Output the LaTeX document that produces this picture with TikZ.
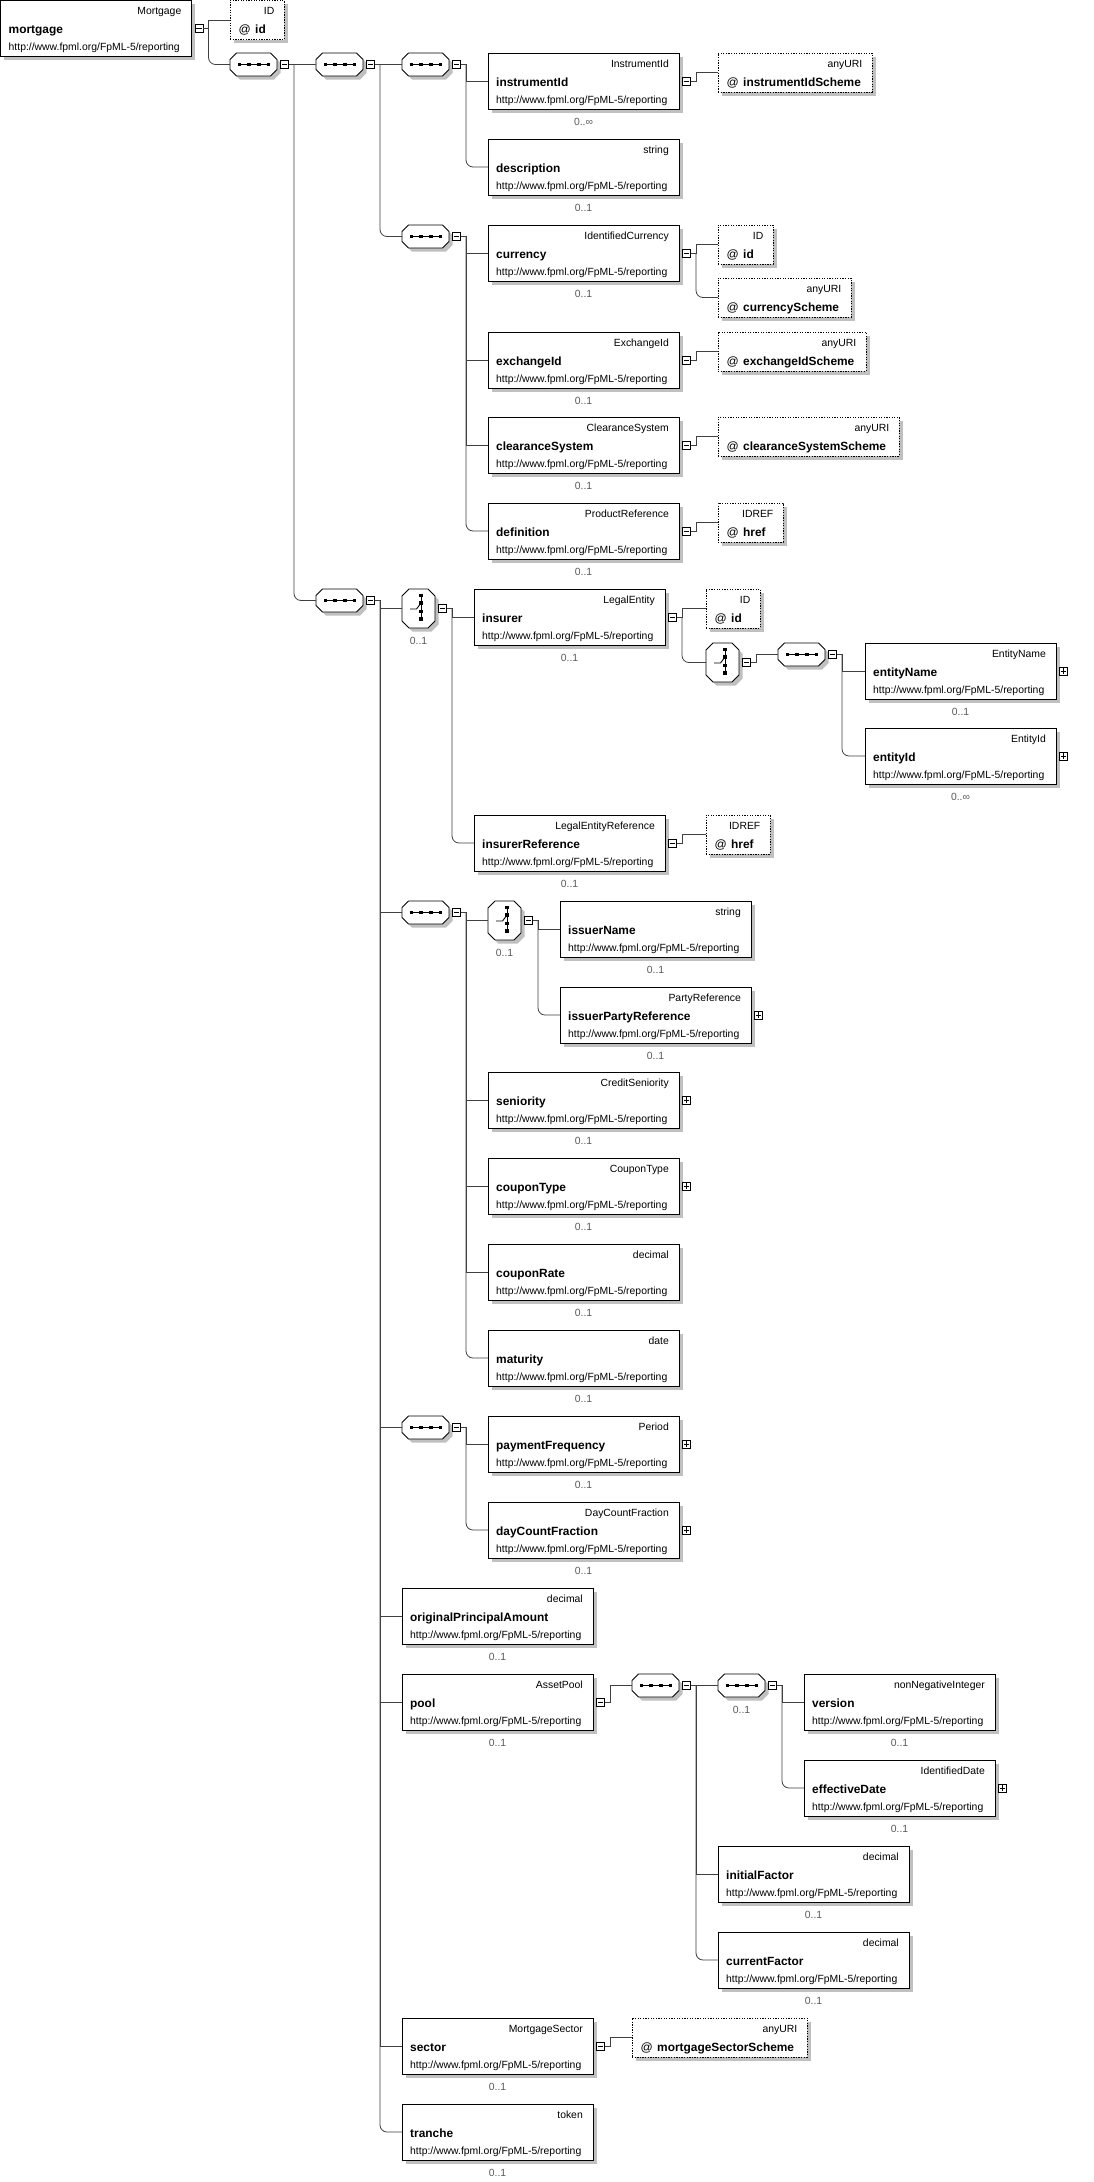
\documentclass[tikz,border=0pt]{standalone}
\usepackage{fontspec}
\setmainfont{Liberation Sans}
\usetikzlibrary{calc}
\definecolor{shadowc}{RGB}{192,192,192}
\definecolor{connc}{RGB}{64,64,64}
\definecolor{multc}{RGB}{90,90,90}
\tikzset{
 ebox/.style={draw=black, line width=0.9pt, fill=white, minimum width=191pt, minimum height=56pt, inner sep=0pt, outer sep=0pt, anchor=north west},
 abox/.style={draw=black, line width=0.9pt, dash pattern=on 1.3pt off 1.3pt, fill=white, minimum height=39pt, inner sep=0pt, outer sep=0pt, anchor=north west},
 inv/.style={draw=none, inner sep=0pt, outer sep=0pt, anchor=north west},
 tlab/.style={font=\fontsize{10.4}{12}\selectfont, anchor=base east, inner sep=0pt},
 ulab/.style={font=\fontsize{10.4}{12}\selectfont, anchor=base west, inner sep=0pt},
 nlab/.style={font=\bfseries\fontsize{11.9}{14}\selectfont, anchor=base west, inner sep=0pt},
 alab/.style={font=\fontsize{12}{14}\selectfont, anchor=base west, inner sep=0pt},
 mlab/.style={font=\fontsize{10.4}{12}\selectfont, text=multc, anchor=base, inner sep=0pt},
 togbox/.style={draw=black, line width=0.8pt, fill=white, minimum size=8pt, inner sep=0pt, outer sep=0pt},
 conn/.style={draw=connc, line width=0.8pt},
}
\newcommand\elem[5]{%
  \fill[shadowc] (#2+3.5,#3+3.5) rectangle ++(191,56);
  \node[ebox] (#1) at (#2,#3) {};
  \node[tlab] (#1-ty) at ($(#1.north east)+(-10,14)$) {#4};
  \node[nlab] (#1-nm) at ($(#1.north west)+(8,33)$) {#5};
  \node[ulab] (#1-ns) at ($(#1.north west)+(8,50)$) {http://www.fpml.org/FpML-5/reporting};
  \coordinate (#1-in) at ($(#1.north west)+(0,28)$);
}
\newcommand\mult[2]{\node[mlab] (#1-mu) at ($(#1.south)+(0,16)$) {#2};}
\newcommand\tog[3]{%
  \node[togbox] (#1) at #2 {};
  \draw[line width=0.8pt] ($(#1.center)+(-2.6,0)$) -- ($(#1.center)+(2.6,0)$);
  \ifnum#3=1 \draw[line width=0.8pt] ($(#1.center)+(0,-2.6)$) -- ($(#1.center)+(0,2.6)$);\fi
}
\newcommand\etog[2]{\tog{#1-t}{($(#1.north east)+(7.5,28)$)}{#2}}
\newcommand\stog[1]{\tog{#1-t}{($(#1.east)+(7.5,0)$)}{0}}
\newcommand\seqn[3]{%
  \begin{scope}[shift={(#2,#3)}]
   \fill[shadowc, shift={(3.5,3.5)}] (6.5,0) -- (40.5,0) -- (47,6.5) -- (47,16.5) -- (40.5,23) -- (6.5,23) -- (0,16.5) -- (0,6.5) -- cycle;
   \filldraw[fill=white, draw=black, line width=0.9pt] (6.5,0) -- (40.5,0) -- (47,6.5) -- (47,16.5) -- (40.5,23) -- (6.5,23) -- (0,16.5) -- (0,6.5) -- cycle;
   \draw[line width=1pt] (9.5,11.5) -- (38.5,11.5);
   \foreach \xx in {9.5,19.2,28.8,38.5} \fill (\xx-1.8,11.5-1.8) rectangle ++(3.6,3.6);
  \end{scope}
  \node[inv, minimum width=47pt, minimum height=23pt] (#1) at (#2,#3) {};
}
\newcommand\chon[3]{%
  \begin{scope}[shift={(#2,#3)}]
   \fill[shadowc, shift={(3.5,3.5)}] (7,0) -- (26,0) -- (33,7) -- (33,32) -- (26,39) -- (7,39) -- (0,32) -- (0,7) -- cycle;
   \filldraw[fill=white, draw=black, line width=0.9pt] (7,0) -- (26,0) -- (33,7) -- (33,32) -- (26,39) -- (7,39) -- (0,32) -- (0,7) -- cycle;
   \draw[line width=1pt] (19,6.3) -- (19,30);
   \foreach \yy in {6.3,14,22.3,30} \fill (19-1.8,\yy-1.8) rectangle ++(3.6,3.6);
   \draw[line width=0.9pt] (8,20) -- (14.5,20) -- (19,14);
  \end{scope}
  \node[inv, minimum width=33pt, minimum height=39pt] (#1) at (#2,#3) {};
}
\newcommand\attr[6]{%
  \fill[shadowc] (#2+3.5,#3+3.5) rectangle ++(#4,39);
  \node[abox, minimum width=#4pt] (#1) at (#2,#3) {};
  \node[tlab] (#1-ty) at ($(#1.north east)+(-9.5,14)$) {#5};
  \node[alab] (#1-at) at ($(#1.north west)+(8.5,33)$) {@};
  \node[nlab] (#1-nm) at ($(#1.north west)+(25,33)$) {#6};
}
\newcommand\br[2]{\draw[conn] (#1.east) -- ++(5.5,0) |- (#2);}
\newcommand\brl[2]{\draw[conn] (#1.east) -- ++(5.5,0) coordinate (#1-x); \draw[conn, rounded corners=7pt] (#1-x) |- (#2);}
\begin{document}
\begin{tikzpicture}[x=1pt,y=-1pt]
\fill[white] (0,0) rectangle (1094,2182);
\useasboundingbox (0,0) rectangle (1094,2182);
% elements
\elem{mortgage}{0.5}{0.5}{Mortgage}{mortgage}
\elem{instrumentId}{488}{53}{InstrumentId}{instrumentId}
\elem{description}{488}{139}{string}{description}
\elem{currency}{488}{225}{IdentifiedCurrency}{currency}
\elem{exchangeId}{488}{332}{ExchangeId}{exchangeId}
\elem{clearanceSystem}{488}{417}{ClearanceSystem}{clearanceSystem}
\elem{definition}{488}{503}{ProductReference}{definition}
\elem{insurer}{474}{589}{LegalEntity}{insurer}
\elem{entityName}{865}{643}{EntityName}{entityName}
\elem{entityId}{865}{728}{EntityId}{entityId}
\elem{insurerReference}{474}{815}{LegalEntityReference}{insurerReference}
\elem{issuerName}{560}{901}{string}{issuerName}
\elem{issuerPartyReference}{560}{987}{PartyReference}{issuerPartyReference}
\elem{seniority}{488}{1072}{CreditSeniority}{seniority}
\elem{couponType}{488}{1158}{CouponType}{couponType}
\elem{couponRate}{488}{1244}{decimal}{couponRate}
\elem{maturity}{488}{1330}{date}{maturity}
\elem{paymentFrequency}{488}{1416}{Period}{paymentFrequency}
\elem{dayCountFraction}{488}{1502}{DayCountFraction}{dayCountFraction}
\elem{originalPrincipalAmount}{402}{1588}{decimal}{originalPrincipalAmount}
\elem{pool}{402}{1674}{AssetPool}{pool}
\elem{version}{804}{1674}{nonNegativeInteger}{version}
\elem{effectiveDate}{804}{1760}{IdentifiedDate}{effectiveDate}
\elem{initialFactor}{718}{1846}{decimal}{initialFactor}
\elem{currentFactor}{718}{1932}{decimal}{currentFactor}
\elem{sector}{402}{2018}{MortgageSector}{sector}
\elem{tranche}{402}{2104}{token}{tranche}
% multiplicities
\mult{instrumentId}{0..∞}
\mult{description}{0..1}
\mult{currency}{0..1}
\mult{exchangeId}{0..1}
\mult{clearanceSystem}{0..1}
\mult{definition}{0..1}
\mult{insurer}{0..1}
\mult{entityName}{0..1}
\mult{entityId}{0..∞}
\mult{insurerReference}{0..1}
\mult{issuerName}{0..1}
\mult{issuerPartyReference}{0..1}
\mult{seniority}{0..1}
\mult{couponType}{0..1}
\mult{couponRate}{0..1}
\mult{maturity}{0..1}
\mult{paymentFrequency}{0..1}
\mult{dayCountFraction}{0..1}
\mult{originalPrincipalAmount}{0..1}
\mult{pool}{0..1}
\mult{version}{0..1}
\mult{effectiveDate}{0..1}
\mult{initialFactor}{0..1}
\mult{currentFactor}{0..1}
\mult{sector}{0..1}
\mult{tranche}{0..1}
% compositors
\seqn{seq1}{230}{53}
\seqn{seq2}{316}{53}
\seqn{seq3}{402}{53}
\seqn{seq4}{402}{225}
\seqn{seq5}{316}{589}
\seqn{seq6}{778}{643}
\seqn{seq7}{402}{901}
\seqn{seq8}{402}{1416}
\seqn{seq9}{632}{1674}
\seqn{seq10}{718}{1674}
\chon{choice1}{402}{589}
\chon{choice2}{706}{643}
\chon{choice3}{488}{901}
\mult{choice1}{0..1}
\mult{choice3}{0..1}
\mult{seq10}{0..1}
% attributes
\attr{a-mortgage-id}{230}{0.5}{54}{ID}{id}
\attr{a-instrumentIdScheme}{718}{53}{154}{anyURI}{instrumentIdScheme}
\attr{a-currency-id}{718}{225}{55}{ID}{id}
\attr{a-currencyScheme}{718}{278}{133}{anyURI}{currencyScheme}
\attr{a-exchangeIdScheme}{718}{332}{148}{anyURI}{exchangeIdScheme}
\attr{a-clearanceSystemScheme}{718}{417}{181}{anyURI}{clearanceSystemScheme}
\attr{a-definition-href}{718}{503}{65}{IDREF}{href}
\attr{a-insurer-id}{706}{589}{54}{ID}{id}
\attr{a-insurerReference-href}{706}{815}{64}{IDREF}{href}
\attr{a-mortgageSectorScheme}{632}{2018}{175}{anyURI}{mortgageSectorScheme}
% toggles
\etog{mortgage}{0}
\etog{instrumentId}{0}
\etog{currency}{0}
\etog{exchangeId}{0}
\etog{clearanceSystem}{0}
\etog{definition}{0}
\etog{insurer}{0}
\etog{insurerReference}{0}
\etog{pool}{0}
\etog{sector}{0}
\etog{entityName}{1}
\etog{entityId}{1}
\etog{issuerPartyReference}{1}
\etog{seniority}{1}
\etog{couponType}{1}
\etog{paymentFrequency}{1}
\etog{dayCountFraction}{1}
\etog{effectiveDate}{1}
\stog{seq1}\stog{seq2}\stog{seq3}\stog{seq4}\stog{seq5}
\stog{seq6}\stog{seq7}\stog{seq8}\stog{seq9}\stog{seq10}
\stog{choice1}\stog{choice2}\stog{choice3}
% connectors
\br{mortgage-t}{a-mortgage-id.west}
\brl{mortgage-t}{seq1.west}
\br{seq1-t}{seq2.west}
\brl{seq1-t}{seq5.west}
\br{seq2-t}{seq3.west}
\brl{seq2-t}{seq4.west}
\br{seq3-t}{instrumentId-in}
\brl{seq3-t}{description-in}
\br{instrumentId-t}{a-instrumentIdScheme.west}
\br{seq4-t}{currency-in}
\br{seq4-t}{exchangeId-in}
\br{seq4-t}{clearanceSystem-in}
\brl{seq4-t}{definition-in}
\br{currency-t}{a-currency-id.west}
\brl{currency-t}{a-currencyScheme.west}
\br{exchangeId-t}{a-exchangeIdScheme.west}
\br{clearanceSystem-t}{a-clearanceSystemScheme.west}
\br{definition-t}{a-definition-href.west}
\br{seq5-t}{choice1.west}
\br{seq5-t}{seq7.west}
\br{seq5-t}{seq8.west}
\br{seq5-t}{originalPrincipalAmount-in}
\br{seq5-t}{pool-in}
\br{seq5-t}{sector-in}
\brl{seq5-t}{tranche-in}
\br{choice1-t}{insurer-in}
\brl{choice1-t}{insurerReference-in}
\br{insurer-t}{a-insurer-id.west}
\brl{insurer-t}{choice2.west}
\br{choice2-t}{seq6.west}
\br{seq6-t}{entityName-in}
\brl{seq6-t}{entityId-in}
\br{insurerReference-t}{a-insurerReference-href.west}
\br{seq7-t}{choice3.west}
\br{seq7-t}{seniority-in}
\br{seq7-t}{couponType-in}
\br{seq7-t}{couponRate-in}
\brl{seq7-t}{maturity-in}
\br{choice3-t}{issuerName-in}
\brl{choice3-t}{issuerPartyReference-in}
\br{seq8-t}{paymentFrequency-in}
\brl{seq8-t}{dayCountFraction-in}
\br{pool-t}{seq9.west}
\br{seq9-t}{seq10.west}
\br{seq9-t}{initialFactor-in}
\brl{seq9-t}{currentFactor-in}
\br{seq10-t}{version-in}
\brl{seq10-t}{effectiveDate-in}
\br{sector-t}{a-mortgageSectorScheme.west}
\end{tikzpicture}
\end{document}
